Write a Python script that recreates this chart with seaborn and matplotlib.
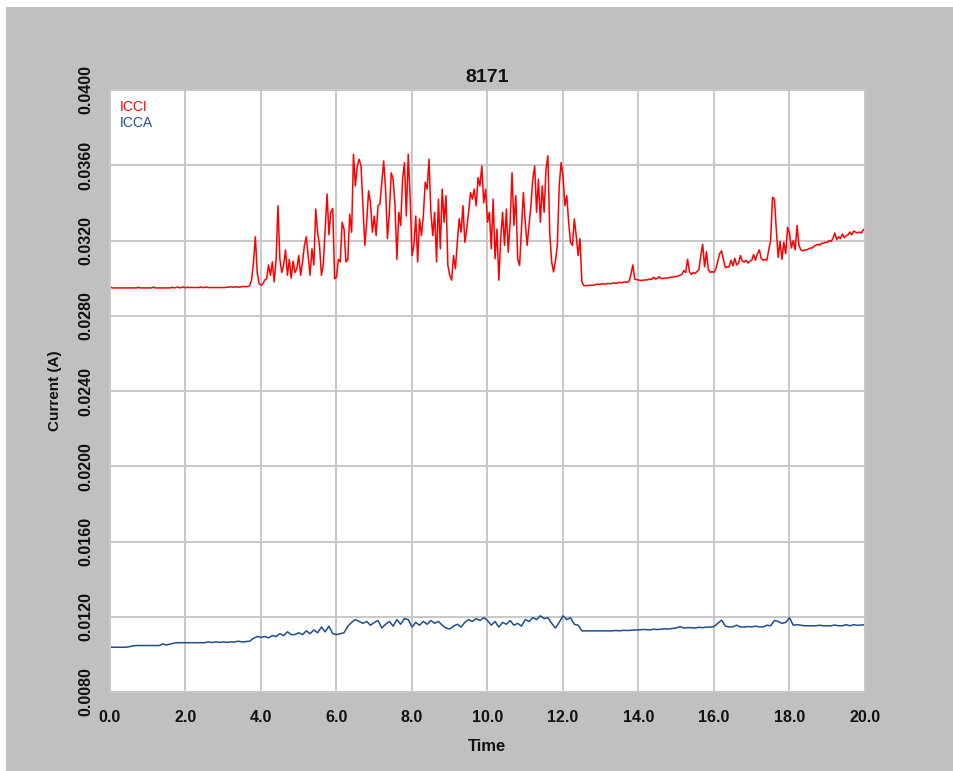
import numpy as np
import pandas as pd
import matplotlib
matplotlib.use("Agg")
import matplotlib.pyplot as plt
import seaborn as sns
from matplotlib.patches import Rectangle

# ---------------- data (currents in mA) ----------------
title = "8171"
series_names = ["ICCI", "ICCA"]
series_colors = ["#ff0000", "#1f4e8c"]
x_ticks = [0, 2, 4, 6, 8, 10, 12, 14, 16, 18, 20]
y_ticks = [0.0080, 0.0120, 0.0160, 0.0200, 0.0240, 0.0280, 0.0320, 0.0360, 0.0400]
icci_step = 0.05   # sampling interval of ICCI values (s)
icca_step = 0.1    # sampling interval of ICCA values (s)

icci_mA = [
    29.55, 29.48, 29.48, 29.48, 29.48, 29.48, 29.48, 29.48, 29.48, 29.48, 29.48, 29.48, 29.48, 29.48, 29.48, 29.52, 29.48, 29.48, 29.48, 29.48,
    29.48, 29.48, 29.48, 29.53, 29.48, 29.48, 29.48, 29.48, 29.48, 29.48, 29.48, 29.48, 29.48, 29.52, 29.48, 29.50, 29.53, 29.48, 29.51, 29.53,
    29.48, 29.52, 29.50, 29.50, 29.50, 29.50, 29.50, 29.50, 29.53, 29.50, 29.50, 29.53, 29.50, 29.50, 29.50, 29.50, 29.50, 29.50, 29.50, 29.50,
    29.50, 29.50, 29.52, 29.52, 29.55, 29.52, 29.52, 29.55, 29.52, 29.52, 29.55, 29.55, 29.55, 29.55, 29.60, 29.90, 30.80, 32.20, 30.30, 29.70,
    29.62, 29.70, 29.90, 29.97, 30.70, 30.15, 30.86, 29.80, 31.00, 33.85, 31.00, 30.30, 30.70, 31.50, 30.15, 31.00, 30.00, 30.90, 30.30, 30.50,
    31.20, 30.15, 30.86, 31.74, 32.20, 31.20, 30.15, 31.56, 30.70, 33.67, 32.44, 31.74, 30.15, 30.70, 32.60, 34.47, 32.30, 33.50, 33.70, 29.97,
    30.06, 31.00, 30.86, 32.97, 32.60, 30.86, 31.00, 33.40, 32.44, 36.58, 34.90, 35.96, 36.32, 35.96, 33.85, 31.74, 32.97, 34.64, 34.00, 32.44,
    33.30, 32.26, 33.85, 33.94, 35.10, 36.23, 34.73, 32.10, 33.50, 35.60, 35.26, 33.85, 31.00, 33.50, 32.80, 35.26, 36.14, 33.30, 36.58, 34.38,
    31.20, 31.74, 33.30, 30.86, 33.15, 32.26, 33.30, 35.10, 34.73, 36.32, 33.50, 32.26, 33.50, 30.86, 34.20, 31.56, 34.73, 32.97, 34.38, 30.68,
    30.15, 29.89, 31.20, 30.50, 31.90, 33.15, 32.44, 33.85, 31.90, 32.60, 33.50, 34.55, 34.20, 34.73, 33.85, 35.35, 34.90, 35.96, 34.00, 34.73,
    32.97, 33.50, 31.56, 34.20, 31.03, 32.60, 29.89, 32.10, 33.50, 31.74, 33.67, 31.38, 32.97, 35.60, 32.80, 34.38, 31.03, 30.68, 32.60, 34.55,
    32.97, 31.74, 32.80, 33.85, 35.26, 35.96, 33.50, 35.26, 32.97, 34.90, 33.50, 35.80, 36.50, 32.35, 30.86, 30.33, 30.90, 31.74, 34.90, 36.14,
    35.44, 33.85, 34.38, 32.97, 31.90, 31.74, 33.15, 32.26, 31.20, 32.10, 29.80, 29.60, 29.60, 29.60, 29.62, 29.62, 29.62, 29.65, 29.68, 29.66,
    29.68, 29.70, 29.68, 29.70, 29.72, 29.70, 29.72, 29.75, 29.72, 29.74, 29.78, 29.76, 29.78, 29.80, 29.78, 29.82, 30.20, 30.70, 29.95, 29.92,
    29.90, 29.88, 29.88, 29.90, 29.90, 29.92, 29.95, 29.93, 30.05, 29.95, 29.98, 30.08, 29.98, 29.98, 30.00, 30.00, 30.02, 30.05, 30.05, 30.08,
    30.08, 30.12, 30.15, 30.20, 30.40, 30.30, 31.00, 30.35, 30.20, 30.30, 30.25, 30.35, 30.45, 31.20, 31.80, 30.60, 31.40, 30.45, 30.30, 30.35,
    30.30, 30.50, 30.90, 31.30, 31.45, 31.00, 30.55, 30.60, 30.60, 30.95, 30.65, 31.05, 30.70, 30.80, 31.20, 30.90, 30.85, 30.95, 30.80, 30.90,
    30.95, 31.25, 30.95, 31.30, 31.50, 31.05, 30.95, 31.00, 30.95, 31.50, 32.00, 34.30, 34.20, 32.60, 31.10, 31.95, 31.00, 31.90, 31.30, 32.70,
    32.40, 31.60, 32.00, 31.50, 32.80, 31.75, 31.50, 31.45, 31.50, 31.50, 31.55, 31.60, 31.60, 31.70, 31.75, 31.80, 31.75, 31.85, 31.85, 31.90,
    31.90, 32.00, 31.95, 32.10, 32.40, 32.05, 32.20, 32.10, 32.35, 32.15, 32.25, 32.30, 32.45, 32.30, 32.50, 32.45, 32.40, 32.45, 32.40, 32.55,
    32.65,
]

icca_mA = [
    10.38, 10.38, 10.38, 10.38, 10.38, 10.40, 10.45, 10.47, 10.47, 10.47,
    10.47, 10.47, 10.47, 10.47, 10.55, 10.50, 10.55, 10.60, 10.62, 10.62,
    10.62, 10.62, 10.62, 10.62, 10.62, 10.62, 10.66, 10.63, 10.66, 10.64,
    10.66, 10.64, 10.66, 10.66, 10.70, 10.66, 10.68, 10.70, 10.85, 10.95,
    10.90, 10.95, 10.88, 11.00, 10.95, 11.10, 11.00, 11.20, 11.05, 11.05,
    11.15, 11.05, 11.25, 11.10, 11.30, 11.15, 11.45, 11.20, 11.50, 11.10,
    11.05, 11.10, 11.15, 11.50, 11.70, 11.85, 11.75, 11.65, 11.75, 11.55,
    11.70, 11.80, 11.40, 11.60, 11.75, 11.50, 11.85, 11.60, 11.90, 11.85,
    11.45, 11.70, 11.55, 11.75, 11.60, 11.80, 11.65, 11.75, 11.55, 11.40,
    11.35, 11.50, 11.60, 11.45, 11.70, 11.85, 11.75, 11.90, 11.80, 11.95,
    11.80, 11.55, 11.75, 11.45, 11.70, 11.60, 11.80, 11.55, 11.65, 11.50,
    11.85, 11.75, 11.95, 11.85, 12.05, 11.90, 11.95, 11.65, 11.40, 11.70,
    12.05, 11.85, 11.95, 11.60, 11.55, 11.25, 11.25, 11.25, 11.25, 11.25,
    11.25, 11.25, 11.25, 11.25, 11.27, 11.25, 11.28, 11.27, 11.28, 11.30,
    11.30, 11.32, 11.32, 11.30, 11.34, 11.32, 11.34, 11.36, 11.35, 11.38,
    11.40, 11.48, 11.40, 11.42, 11.42, 11.40, 11.44, 11.42, 11.45, 11.45,
    11.48, 11.65, 11.82, 11.50, 11.46, 11.46, 11.55, 11.46, 11.45, 11.48,
    11.46, 11.50, 11.46, 11.46, 11.55, 11.52, 11.80, 11.75, 11.65, 11.70,
    11.95, 11.55, 11.58, 11.55, 11.52, 11.52, 11.52, 11.52, 11.55, 11.52,
    11.52, 11.52, 11.56, 11.52, 11.52, 11.58, 11.52, 11.58, 11.54, 11.56,
    11.58,
]

# ---------------- build long-form table ----------------
t_icci = np.round(np.arange(len(icci_mA)) * icci_step, 3)
t_icca = np.round(np.arange(len(icca_mA)) * icca_step, 3)
df = pd.concat([
    pd.DataFrame({"Time": t_icci, "Current": np.array(icci_mA) / 1000.0, "Series": series_names[0]}),
    pd.DataFrame({"Time": t_icca, "Current": np.array(icca_mA) / 1000.0, "Series": series_names[1]}),
], ignore_index=True)

# ---------------- styling ----------------
sns.set_theme(style="white")
plt.rcParams["font.family"] = ["Liberation Sans", "DejaVu Sans"]

W, H = 954, 771
fig = plt.figure(figsize=(W / 100, H / 100), dpi=100, facecolor="white")
fig.patches.append(Rectangle((6 / W, 0), 1, 1 - 7 / H, transform=fig.transFigure,
                             facecolor="#c0c0c0", edgecolor="none", zorder=-10))

ax = fig.add_axes([110 / W, 1 - 692 / H, 755 / W, 602 / H])
ax.set_facecolor("white")

palette = dict(zip(series_names, series_colors))
sns.lineplot(data=df, x="Time", y="Current", hue="Series", palette=palette,
             linewidth=1.1, ax=ax, estimator=None, sort=False)

ax.set_xlim(0, 20)
ax.set_ylim(0.008, 0.040)
ax.set_xticks(x_ticks)
ax.set_xticklabels([f"{v:.1f}" for v in x_ticks], fontsize=11.5, fontweight="bold", color="#111111")
ax.set_yticks(y_ticks)
ax.set_yticklabels([f"{v:.4f}" for v in y_ticks], fontsize=11.5, fontweight="bold",
                   rotation=90, va="center", color="#111111")
ax.tick_params(axis="x", length=0, pad=13)
ax.tick_params(axis="y", length=0, pad=12)

ax.grid(True, color="#c8c8c8", linewidth=1.4)
ax.set_axisbelow(True)
for s in ax.spines.values():
    s.set_color("#c8c8c8")
    s.set_linewidth(1.4)

ax.set_title(title, fontsize=14, fontweight="bold", pad=6, color="#111111")
ax.set_xlabel("Time", fontsize=12, fontweight="bold", labelpad=10, color="#111111")
ax.set_ylabel("Current (A)", fontsize=11, fontweight="bold", labelpad=12, color="#111111")

leg = ax.legend(loc="upper left", frameon=False, handlelength=0, handletextpad=0,
                borderaxespad=0.3, labelspacing=0.15, fontsize=10)
for txt, h, c in zip(leg.get_texts(), leg.legend_handles, series_colors):
    txt.set_color(c)
    h.set_visible(False)

fig.savefig("out.png", dpi=100, facecolor=fig.get_facecolor())
